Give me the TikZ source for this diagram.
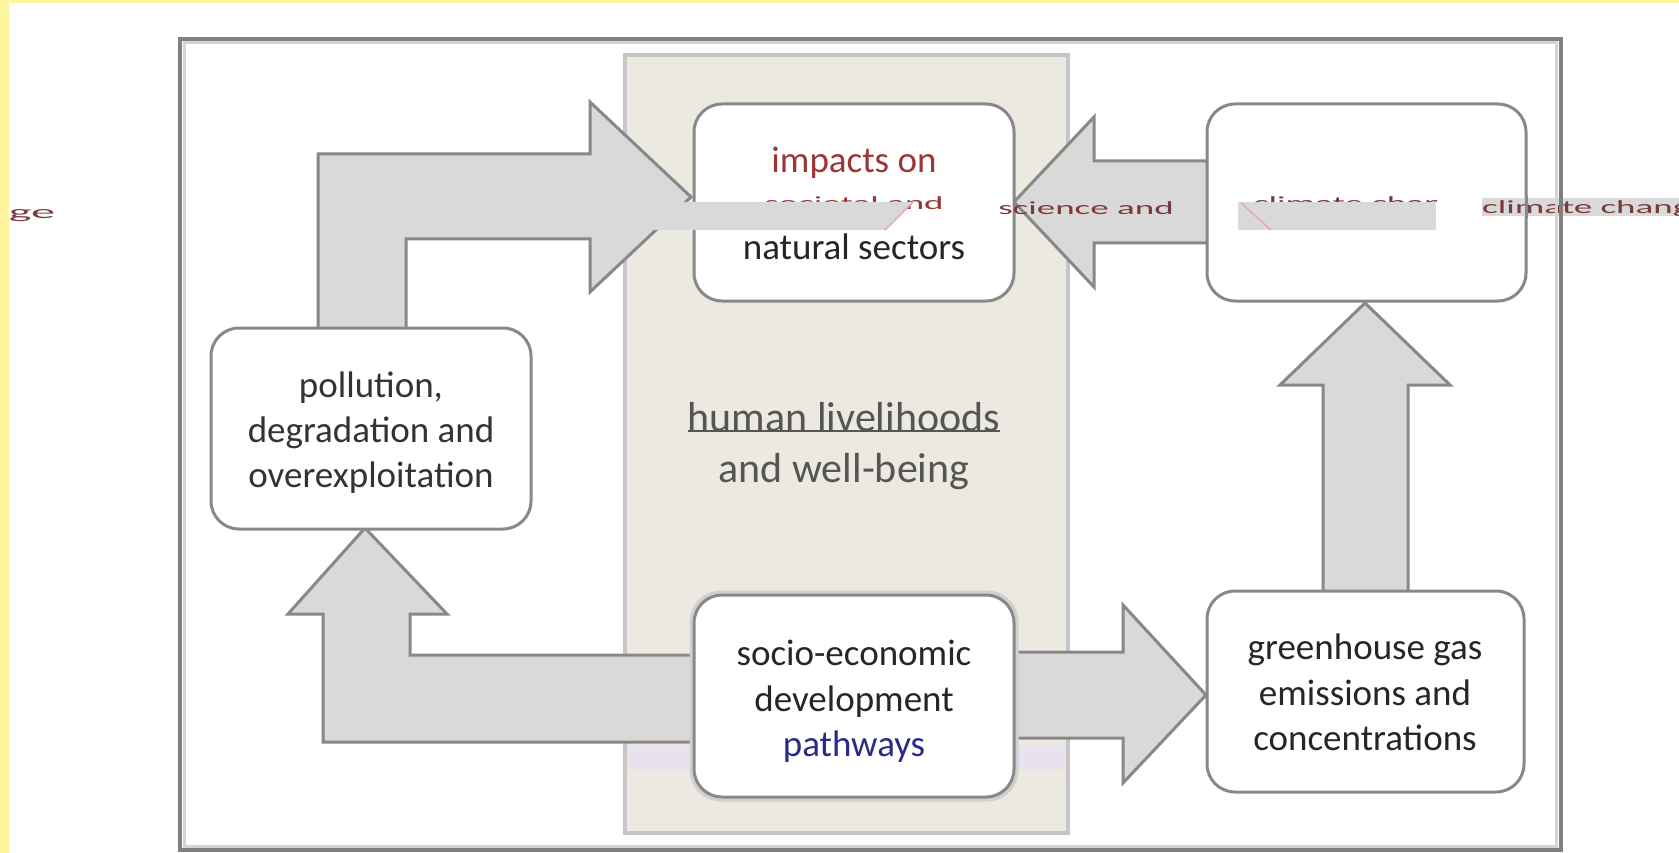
\documentclass[tikz,border=0pt]{standalone}
\usepackage{fontspec}
\setmainfont{Carlito}
\definecolor{frameD}{HTML}{808080}
\definecolor{frameL}{HTML}{D4D4D4}
\definecolor{beige}{HTML}{ECEAE0}
\definecolor{beigeB}{HTML}{C6C6C6}
\definecolor{arrowF}{HTML}{D9D9D9}
\definecolor{arrowB}{HTML}{888888}
\definecolor{boxB}{HTML}{888888}
\definecolor{boxS}{HTML}{D0D0D0}
\definecolor{yel}{HTML}{FFF59E}
\definecolor{lav}{HTML}{E9E2EE}
\definecolor{txtD}{HTML}{262626}
\definecolor{txtP}{HTML}{333333}
\definecolor{txtG}{HTML}{555555}
\definecolor{txtR}{HTML}{9A3636}
\definecolor{txtB}{HTML}{2A2A8A}
\definecolor{glitch}{HTML}{7A3A3A}
\definecolor{pinkish}{HTML}{E8A8B4}
\begin{document}
\begin{tikzpicture}[x=1pt,y=-1pt,
  fatarrow/.style={fill=arrowF, draw=arrowB, line width=3pt, line join=miter},
  rbox/.style={draw=boxB, fill=white, line width=3pt, rounded corners=28pt, inner sep=0pt},
  txt/.style={font=\fontsize{37}{44}\selectfont, text=txtD, inner sep=0pt, anchor=base},
  bigtxt/.style={font=\fontsize{42}{50}\selectfont, text=txtG, inner sep=0pt, anchor=base},
  glitchtxt/.style={font=\fontsize{37}{40}\selectfont, text=glitch, inner sep=0pt, anchor=base}]
\useasboundingbox (0,0) rectangle (1679,853);
\fill[white] (0,0) rectangle (1679,853);
% yellow edges
\fill[yel] (0,0) rectangle (1679,3);
\fill[yel] (0,0) rectangle (9,853);
% outer frame
\draw[frameL, line width=3pt] (184,43) rectangle (1556,846);
\draw[frameD, line width=4pt] (179.5,39.5) rectangle (1561,850);
% beige column
\draw[fill=beige, draw=beigeB, line width=4pt] (625,55) rectangle (1068,833);
\fill[lav] (627,745) rectangle (1066,770);
% fat arrows
\draw[fatarrow] (318,335) -- (318,154) -- (590,154) -- (590,102) -- (691,197) -- (590,292) -- (590,239) -- (406,239) -- (406,335) -- cycle;
\draw[fatarrow] (1215,161) -- (1094,161) -- (1094,117) -- (1014,202) -- (1094,287) -- (1094,243) -- (1215,243) -- cycle;
\draw[fatarrow] (1323,600) -- (1323,385) -- (1280,385) -- (1365,303) -- (1450,385) -- (1408,385) -- (1408,600) -- cycle;
\draw[fatarrow] (700,655) -- (410,655) -- (410,614) -- (447,614) -- (365,528) -- (288,614) -- (323,614) -- (323,742) -- (700,742) -- cycle;
\draw[fatarrow] (1008,652) -- (1123,652) -- (1123,605) -- (1206,695) -- (1123,783) -- (1123,738) -- (1008,738) -- cycle;
% boxes
\node[rbox, minimum width=320pt, minimum height=197pt] (imp) at (854,202.5) {};
\node[rbox, minimum width=319pt, minimum height=197pt] (clim) at (1366.5,202.5) {};
\node[rbox, minimum width=320pt, minimum height=201pt] (pol) at (371,428.5) {};
\node[rbox, draw=boxS, line width=7pt, minimum width=322pt, minimum height=204pt] (socs) at (854,696) {};
\node[rbox, minimum width=320pt, minimum height=202pt] (soc) at (854,696) {};
\node[rbox, minimum width=317pt, minimum height=201pt] (ghg) at (1365.5,691.5) {};
% texts
\node[txt, text=txtR] (imp1) at (854,173) {impacts on};
\node[glitchtxt, text=txtR] (imp2) at (854,210) {\scalebox{1}[0.5]{societal and}};
\node[txt] (imp3) at (854,260) {natural sectors};
\begin{scope}
\clip (1210,150) rectangle (1436,240);
\node[glitchtxt] (clim1) at (1366,210) {\scalebox{1}[0.5]{climate change}};
\end{scope}
\node[txt, text=txtP] (pol1) at (371,397) {pollution,};
\node[txt, text=txtP] (pol2) at (371,442) {degradation and};
\node[txt, text=txtP] (pol3) at (371,487) {overexploitation};
\node[bigtxt] (hl1) at (844,431) {human livelihoods};
\node[bigtxt] (hl2) at (844,482) {and well-being};
\draw[txtG, line width=1.5pt] (hl1.base west) -- (hl1.base east);
\node[txt] (soc1) at (854,665) {socio-economic};
\node[txt] (soc2) at (854,711) {development};
\node[txt, text=txtB] (soc3) at (854,756) {pathways};
\node[txt] (ghg1) at (1365,659) {greenhouse gas};
\node[txt] (ghg2) at (1365,705) {emissions and};
\node[txt] (ghg3) at (1365,750) {concentrations};
% glitch bars
\fill[arrowF] (650,202) -- (913,202) -- (885,230) -- (650,230) -- cycle;
\draw[pinkish, line width=1.5pt] (913,202) -- (885,230);
\fill[arrowF] (1238,202) rectangle (1436,230);
\draw[pinkish, line width=1.5pt] (1241,203) -- (1271,230);
% glitch text row
\node[glitchtxt] (g1) at (32,219) {\scalebox{1.3}[0.5]{ge}};
\node[glitchtxt] (sci) at (1086,215) {\scalebox{1}[0.5]{science and}};
\fill[arrowF] (1482,198) rectangle (1679,216);
\node[glitchtxt, anchor=base west] (cc) at (1482,214) {\scalebox{1}[0.5]{climate change}};
\draw[boxB, line width=3pt] (1526,196) -- (1526,218);
\draw[frameL, line width=3pt] (1556,196) -- (1556,218);
\draw[frameD, line width=4pt] (1561,196) -- (1561,218);
\end{tikzpicture}
\end{document}
